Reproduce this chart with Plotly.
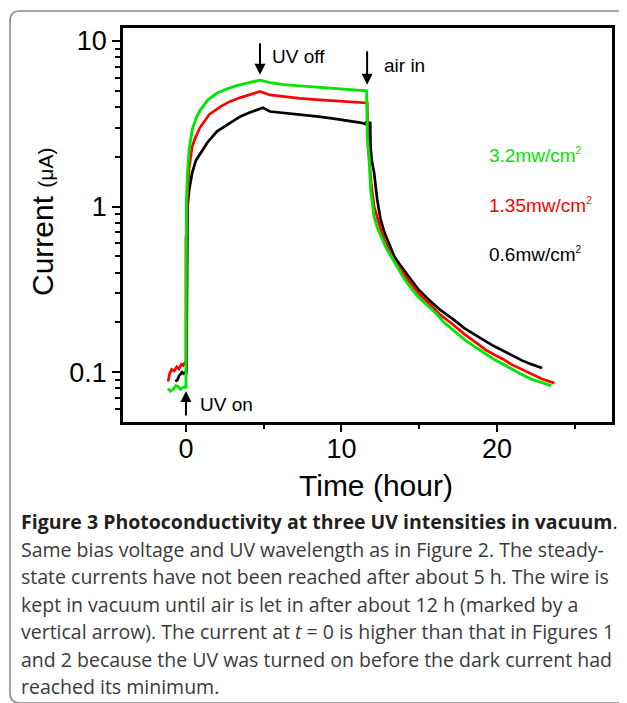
import math
import plotly.graph_objects as go

# ---------------- data ----------------
t_green = [-1.15, -1.0, -0.82, -0.65, -0.5, -0.35, -0.2, -0.06, 0.0, 0.0, 0.03, 0.1, 0.2, 0.4, 0.64,
           0.9, 1.4, 2.0, 2.8, 3.5, 4.1, 4.76, 5.4, 6.3, 7.3, 8.4, 9.5, 10.6, 11.62,
           11.66, 11.77, 11.88, 12.09, 12.3, 12.54, 12.85, 13.2, 13.6, 14.07, 14.5, 14.9, 15.5,
           16.05, 16.6, 17.15, 17.9, 18.7, 19.2, 19.8, 20.4, 20.9, 21.5, 22.2, 22.8, 23.5]
i_green = [0.08, 0.077, 0.079, 0.083, 0.082, 0.079, 0.081, 0.082, 0.08, 0.75, 1.1, 1.6, 2.2, 2.9, 3.4,
           3.8, 4.4, 4.85, 5.2, 5.45, 5.6, 5.8, 5.6, 5.45, 5.35, 5.27, 5.2, 5.1, 5.0,
           2.6, 2.0, 1.26, 0.875, 0.75, 0.66, 0.57, 0.5, 0.43, 0.363, 0.32, 0.288, 0.255,
           0.229, 0.2, 0.18, 0.158, 0.14, 0.13, 0.12, 0.112, 0.105, 0.098, 0.091, 0.087, 0.083]

t_red = [-1.15, -1.05, -0.92, -0.75, -0.6, -0.45, -0.3, -0.17, -0.05, 0.0, 0.0, 0.05, 0.1, 0.2, 0.4,
         0.6, 0.9, 1.5, 2.2, 2.8, 3.5, 4.1, 4.76, 5.4, 6.3, 7.33, 8.4, 9.5, 10.6, 11.66,
         11.7, 11.8, 11.92, 12.1, 12.3, 12.55, 12.85, 13.2, 13.4, 13.8, 14.3, 14.9, 15.6, 16.3,
         17.15, 17.9, 18.7, 19.3, 19.8, 20.4, 20.9, 21.5, 22.2, 22.9, 23.7]
i_red = [0.088, 0.098, 0.104, 0.102, 0.108, 0.105, 0.112, 0.11, 0.115, 0.112, 0.65, 0.7, 1.2, 1.7, 2.3,
         2.6, 3.0, 3.6, 4.0, 4.3, 4.55, 4.75, 4.95, 4.72, 4.6, 4.5, 4.42, 4.35, 4.28, 4.22,
         2.4, 1.8, 1.35, 1.0, 0.85, 0.72, 0.6, 0.52, 0.47, 0.42, 0.36, 0.305, 0.26, 0.225,
         0.195, 0.17, 0.15, 0.136, 0.128, 0.12, 0.112, 0.105, 0.097, 0.091, 0.086]

t_black = [-0.68, -0.55, -0.45, -0.35, -0.25, -0.15, -0.05, 0.03, 0.05, 0.06, 0.1, 0.2, 0.4, 0.64,
           1.0, 1.4, 2.0, 2.8, 3.5, 4.1, 4.95, 5.4, 6.3, 7.33, 8.4, 9.5, 10.5, 11.3, 11.55, 11.58, 11.85,
           11.87, 11.95, 12.1, 12.3, 12.5, 12.76, 13.05, 13.4, 13.8, 14.3, 14.9, 15.6, 16.3,
           17.15, 17.9, 18.7, 19.2, 19.8, 20.4, 21.1, 21.6, 22.2, 22.6, 22.9]
i_black = [0.088, 0.09, 0.095, 0.097, 0.1, 0.098, 0.1, 0.098, 0.4, 0.7, 1.0, 1.25, 1.6, 1.9,
           2.15, 2.45, 2.85, 3.2, 3.5, 3.7, 3.95, 3.75, 3.68, 3.6, 3.5, 3.4, 3.3, 3.2, 3.15, 3.22, 3.2,
           2.3, 1.9, 1.6, 1.1, 0.85, 0.7, 0.6, 0.5, 0.44, 0.38, 0.32, 0.275, 0.24,
           0.21, 0.185, 0.166, 0.155, 0.144, 0.135, 0.125, 0.118, 0.112, 0.108, 0.106]

series_labels = ["0.6mw/cm", "1.35mw/cm", "3.2mw/cm"]
x_tickvals = [0, 10, 20]
x_minor = [5, 15, 25]
y_tickvals = [0.1, 1, 10]
y_ticktext = ["0.1", "1", "10"]
y_minor = [0.05, 0.06, 0.07, 0.08, 0.09, 0.2, 0.3, 0.4, 0.5, 0.6, 0.7, 0.8, 0.9,
           2, 3, 4, 5, 6, 7, 8, 9]

caption_lines = [
    "<b>Figure 3 Photoconductivity at three UV intensities in vacuum</b>.",
    "Same bias voltage and UV wavelength as in Figure 2. The steady-",
    "state currents have not been reached after about 5 h. The wire is",
    "kept in vacuum until air is let in after about 12 h (marked by a",
    "vertical arrow). The current at <i>t</i> = 0 is higher than that in Figures 1",
    "and 2 because the UV was turned on before the dark current had",
    "reached its minimum.",
]

GREEN = "#00e600"
RED = "#ff0000"
BLACK = "#000000"
AR = "Arial, Liberation Sans, sans-serif"

# ---------------- layout geometry (reference pixels; page body has an 8px margin) ----------------
OFF = 8
W, H = 627 - OFF, 703 - OFF
L, R, T, B = 123, 612, 28, 422      # plot frame in reference pixels
PW, PH = R - L, B - T


def px(x):
    return (x - L) / PW


def py(y):
    return (B - y) / PH


fig = go.Figure()
for t, v, c, w in [(t_black, i_black, BLACK, 2.7), (t_red, i_red, RED, 2.7), (t_green, i_green, GREEN, 2.9)]:
    fig.add_trace(go.Scatter(x=t, y=v, mode="lines", line=dict(color=c, width=w),
                             showlegend=False, hoverinfo="skip"))

annotations = []
# arrows
for (xt, yt, ay) in [(4.76, 6.24, -33), (11.65, 5.43, -35), (0.0, 0.077, 26)]:
    annotations.append(dict(x=xt, y=math.log10(yt), xref="x", yref="y", text="", showarrow=True,
                            ax=0, ay=ay, arrowhead=2, arrowsize=1.1, arrowwidth=2,
                            arrowcolor="black", standoff=0))
# arrow labels
for (xt, yt, txt) in [(5.4, 8.0, "UV off"), (12.6, 7.15, "air in"), (0.77, 0.064, "UV on")]:
    annotations.append(dict(x=xt, y=math.log10(yt), xref="x", yref="y", text=txt, showarrow=False,
                            xanchor="left", yanchor="middle", font=dict(family=AR, size=19, color="black")))
# intensity labels
for (lab, col, yv) in [(series_labels[2], GREEN, 2.03), (series_labels[1], RED, 1.015), (series_labels[0], BLACK, 0.515)]:
    annotations.append(dict(x=19.36, y=math.log10(yv), xref="x", yref="y",
                            text=lab + "<sup><span style='font-size:10px'>2</span></sup>",
                            showarrow=False, xanchor="left", yanchor="middle",
                            font=dict(family=AR, size=19, color=col)))
# axis titles
annotations.append(dict(x=px(376), y=py(485), xref="paper", yref="paper", text="Time (hour)",
                        showarrow=False, xanchor="center", yanchor="middle",
                        font=dict(family=AR, size=30, color="black")))
annotations.append(dict(x=px(42), y=py(222), xref="paper", yref="paper",
                        text="Current <span style='font-size:21px'>(μA)</span>", textangle=-90,
                        showarrow=False, xanchor="center", yanchor="middle",
                        font=dict(family=AR, size=30, color="black")))
# caption
cap_y = [521, 549, 576, 604, 631, 659, 686]
for i, (line, yy) in enumerate(zip(caption_lines, cap_y)):
    annotations.append(dict(x=px(19), y=py(yy), xref="paper", yref="paper", text=line,
                            showarrow=False, xanchor="left", yanchor="middle",
                            font=dict(family="Open Sans, sans-serif", size=19.5,
                                      color="#231f20" if i == 0 else "#3a3a3a")))

# outer rounded border
r = 10
x0, x1 = 10, 660
y0, y1 = 11, 703
path = (f"M {px(x1)},{py(y1)} L {px(x0 + r)},{py(y1)} Q {px(x0)},{py(y1)} {px(x0)},{py(y1 - r)} "
        f"L {px(x0)},{py(y0 + r)} Q {px(x0)},{py(y0)} {px(x0 + r)},{py(y0)} L {px(x1)},{py(y0)}")
shapes = [dict(type="path", path=path, xref="paper", yref="paper",
               line=dict(color="#8c8c8c", width=1.6), layer="below")]

fig.update_layout(
    width=W, height=H,
    margin=dict(l=L - OFF, r=W - (R - OFF), t=T - OFF, b=H - (B - OFF), pad=0),
    paper_bgcolor="white", plot_bgcolor="white",
    annotations=annotations, shapes=shapes,
    xaxis=dict(range=[-4.05, 27.4], tickmode="array", tickvals=x_tickvals,
               ticks="outside", ticklen=7, tickwidth=2, tickcolor="black",
               showline=True, linecolor="black", linewidth=2.5, mirror=True,
               showgrid=False, zeroline=False, ticklabelstandoff=-6,
               tickfont=dict(family=AR, size=27, color="black"),
               minor=dict(tickmode="array", tickvals=x_minor, ticks="outside",
                          ticklen=4, tickwidth=2, tickcolor="black", showgrid=False)),
    yaxis=dict(type="log", range=[-1.30, 1.078], tickmode="array", tickvals=y_tickvals,
               ticktext=y_ticktext, ticks="outside", ticklen=8, tickwidth=2, tickcolor="black",
               showline=True, linecolor="black", linewidth=2.5, mirror=True,
               showgrid=False, zeroline=False,
               tickfont=dict(family=AR, size=27, color="black"),
               minor=dict(tickmode="array", tickvals=y_minor, ticks="outside",
                          ticklen=5, tickwidth=1.5, tickcolor="black", showgrid=False)),
)

fig.write_html("out.html")
